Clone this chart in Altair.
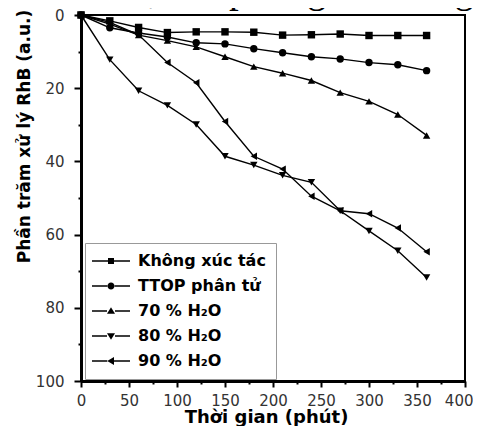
import altair as alt
import pandas as pd

# ---- data ----
times = [0, 30, 60, 90, 120, 150, 180, 210, 240, 270, 300, 330, 360]
series_names = ["Không xúc tác", "TTOP phân tử", "70 % H₂O", "80 % H₂O", "90 % H₂O"]
khong_xuc_tac = [0, 1.6, 3.4, 4.8, 4.6, 4.6, 4.7, 5.5, 5.4, 5.2, 5.6, 5.6, 5.6]
ttop_phan_tu = [0, 3.5, 4.9, 6.0, 7.6, 7.9, 9.2, 10.3, 11.4, 12.0, 13.0, 13.6, 15.2]
h2o_70 = [0, 2.5, 5.5, 7.0, 8.7, 11.4, 14.1, 15.9, 17.9, 21.2, 23.6, 27.2, 32.9]
h2o_80 = [0, 12.2, 20.7, 24.7, 29.9, 38.6, 41.0, 43.8, 45.7, 53.5, 59.0, 64.4, 71.7]
h2o_90 = [0, 2.0, 5.4, 13.0, 18.5, 29.1, 38.6, 42.1, 49.5, 53.5, 54.3, 58.2, 64.7]
x_ticks = list(range(0, 401, 25))
y_ticks = list(range(0, 101, 10))
top_text = ["r chiếu xạ mô phỏng ánh sáng"]

rows = []
for name, vals in zip(series_names, [khong_xuc_tac, ttop_phan_tu, h2o_70, h2o_80, h2o_90]):
    for t, v in zip(times, vals):
        rows.append({"t": t, "v": v, "s": name})
df = pd.DataFrame(rows)

plot_shapes = ["square", "circle", "triangle-up", "triangle-down", "triangle-left"]
legend_line_paths = [
    "M-3.8,0H-0.6M0.6,0H3.8",
    "M-3.8,0H-0.7M0.7,0H3.8",
    "M-3.8,0H-0.8M0.8,0H3.8",
    "M-3.8,0H-0.8M0.8,0H3.8",
    "M-3.8,0H-0.75M0.6,0H3.8",
]
legend_marker_paths = [
    "M-0.6,-0.6H0.6V0.6H-0.6Z",
    "M-0.7,0A0.7,0.7,0,1,0,0.7,0A0.7,0.7,0,1,0,-0.7,0Z",
    "M-0.8,0.55L0.8,0.55L0,-0.75Z",
    "M-0.8,-0.55L0.8,-0.55L0,0.75Z",
    "M0.6,-0.8L0.6,0.8L-0.75,0Z",
]

x_axis = alt.Axis(
    values=x_ticks,
    labelExpr="datum.value % 50 === 0 ? datum.label : ''",
    tickSize={"condition": {"test": "datum.value % 50 === 0", "value": 6}, "value": 3},
    labelAlign={"condition": {"test": "datum.value === 400", "value": "right"}, "value": "center"},
    labelOffset={"condition": {"test": "datum.value === 400", "value": 8}, "value": 0},
    labelPadding=6, labelFlush=False,
    titleX=185, titleY=41, titleAlign="center", titleBaseline="alphabetic",
)
y_axis = alt.Axis(
    values=y_ticks,
    labelExpr="datum.value % 20 === 0 ? datum.label : ''",
    tickSize={"condition": {"test": "datum.value % 20 === 0", "value": 7}, "value": 3},
    labelPadding=10, labelFlush=False, titleFontSize=17,
    titleX=-57, titleY=121, titleAlign="center", titleBaseline="middle", titleAngle=270,
)

X = alt.X("t:Q", scale=alt.Scale(domain=[0, 400], nice=False, zero=False), axis=x_axis, title="Thời gian (phút)")
Y = alt.Y("v:Q", scale=alt.Scale(domain=[0, 100], nice=False, reverse=True), axis=y_axis,
          title="Phần trăm xử lý RhB (a.u.)")

common_legend = dict(
    title=None, orient="none", legendX=4, legendY=228, direction="vertical",
    padding=10, rowPadding=9, symbolOffset=8, labelOffset=19, symbolSize=100,
    labelFont="DejaVu Sans", labelFontSize=16, labelFontWeight="bold",
    labelLimit=300,
)

lines = alt.Chart(df).mark_line(color="black", strokeWidth=1.4).encode(
    x=X, y=Y, detail="s:N", order="t:Q"
)
points = alt.Chart(df).mark_point(filled=True, color="black", size=55, opacity=1).encode(
    x=X, y=Y,
    shape=alt.Shape("s:N", scale=alt.Scale(domain=series_names, range=plot_shapes), legend=None),
)
legend_lines = alt.Chart(df).transform_filter("false").mark_point(
    filled=False, color="black", strokeWidth=1.4, opacity=1
).encode(
    x=X, y=Y,
    shape=alt.Shape(
        "s:N",
        scale=alt.Scale(domain=series_names, range=legend_line_paths),
        legend=alt.Legend(
            labelColor="black", strokeColor="#999999",
            symbolStrokeColor="black", symbolStrokeWidth=1.4, **common_legend,
        ),
    ),
)
legend_markers = alt.Chart(df).transform_filter("false").mark_point(
    filled=True, color="black", opacity=1
).encode(
    x=X, y=Y,
    shape=alt.Shape(
        "s:N",
        scale=alt.Scale(domain=series_names, range=legend_marker_paths),
        legend=alt.Legend(labelOpacity=0, symbolFillColor="black", **common_legend),
    ),
)
top_layer = alt.Chart(pd.DataFrame({"txt": top_text})).mark_text(
    font="Liberation Serif", fontSize=39, color="black", align="left", baseline="alphabetic"
).encode(text="txt:N", x=alt.value(-75), y=alt.value(-13))

chart = alt.layer(lines, points, legend_lines, legend_markers, top_layer).resolve_scale(
    shape="independent"
).properties(
    width=384, height=366, autosize="none",
    padding={"left": 73, "top": 7, "right": 8, "bottom": 45},
).configure_view(stroke="black", strokeWidth=2).configure_axis(
    grid=False, domainColor="black", domainWidth=3, tickColor="black", tickWidth=2,
    labelFont="DejaVu Sans", labelFontSize=15, labelColor="#333333",
    titleFont="DejaVu Sans", titleFontSize=18, titleFontWeight="bold", titleColor="black",
)

chart.save("out.html", embed_options={"renderer": "svg", "actions": False})
